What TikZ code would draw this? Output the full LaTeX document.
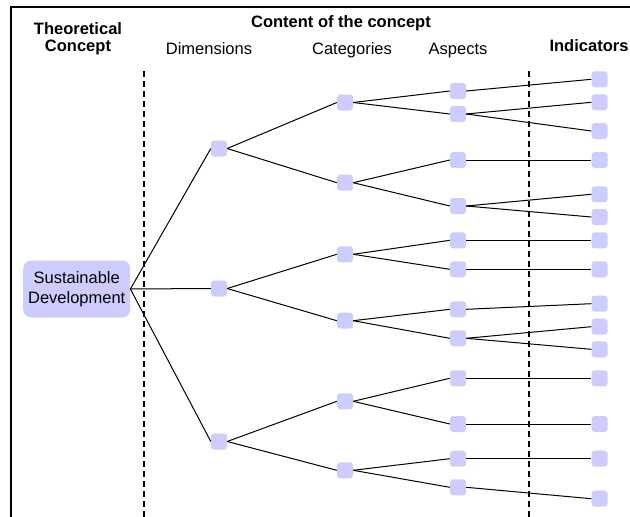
\documentclass[tikz,border=0pt]{standalone}
\usepackage{fontspec}
\setmainfont{Liberation Sans}
\definecolor{boxblue}{RGB}{204,204,255}
\begin{document}
\begin{tikzpicture}[x=1pt,y=-1pt,
  leaf/.style={fill=boxblue, rounded corners=3pt, minimum size=16pt, inner sep=0pt},
  rootbox/.style={fill=boxblue, rounded corners=8pt, minimum width=107pt,
    minimum height=57pt, inner sep=0pt, align=center,
    font=\fontsize{16.5}{20}\selectfont},
  link/.style={draw=black, line width=1pt},
  guide/.style={line width=2pt, dash pattern=on 6pt off 4pt},
  frameline/.style={line width=2pt},
  head/.style={font=\fontsize{16.5}{17.4}\selectfont, anchor=base, inner sep=0pt, align=center},
  boldhead/.style={head, font=\fontsize{16.5}{17.4}\selectfont\bfseries}]
\useasboundingbox (0,0) rectangle (630,517);

% outer frame (top and left edges)
\draw[frameline] (630,6.7) -- (11,6.7) -- (11,517);

% column headings
\node[boldhead, anchor=center] (hTheo) at (78,39) {Theoretical\\Concept};
\node[boldhead] (hContent) at (341,27.3) {Content of the concept};
\node[head] (hDim) at (209,54) {Dimensions};
\node[head] (hCat) at (352,54) {Categories};
\node[head] (hAsp) at (458,54) {Aspects};
\node[boldhead] (hInd) at (589,51.5) {Indicators};

% column separators
\draw[guide] (144,71) -- (144,517);
\draw[guide] (529,71) -- (529,517);

% root concept
\node[rootbox] (sd) at (76.7,289) {Sustainable\\Development};

% dimensions
\node[leaf] (d1) at (219,148.5) {};
\node[leaf] (d2) at (219,288.5) {};
\node[leaf] (d3) at (219,441.5) {};

% categories
\foreach \n/\y in {c1/102.5, c2/182.7, c3/254.3, c4/320.7, c5/401.3, c6/470.3}
  \node[leaf] (\n) at (345,\y) {};

% aspects
\foreach \n/\y in {a1/91, a2/114, a3/160, a4/206, a5/240.3, a6/269.3,
                   a7/309.3, a8/338.3, a9/378.3, a10/424, a11/458.7, a12/487.3}
  \node[leaf] (\n) at (458,\y) {};

% indicators
\foreach \n/\y in {i1/79.3, i2/102.3, i3/131, i4/160, i5/194.3, i6/217,
                   i7/240.3, i8/269.3, i9/303.7, i10/326.7, i11/349.3,
                   i12/378.3, i13/424, i14/458.7, i15/498.7}
  \node[leaf] (\n) at (599.5,\y) {};

% tree connectors
\foreach \a/\b in {sd/d1, sd/d2, sd/d3,
                   d1/c1, d1/c2, d2/c3, d2/c4, d3/c5, d3/c6,
                   c1/a1, c1/a2, c2/a3, c2/a4, c3/a5, c3/a6,
                   c4/a7, c4/a8, c5/a9, c5/a10, c6/a11, c6/a12,
                   a1/i1, a2/i2, a2/i3, a3/i4, a4/i5, a4/i6,
                   a5/i7, a6/i8, a7/i9, a8/i10, a8/i11,
                   a9/i12, a10/i13, a11/i14, a12/i15}
  \draw[link] (\a.east) -- (\b.west);
\end{tikzpicture}
\end{document}
